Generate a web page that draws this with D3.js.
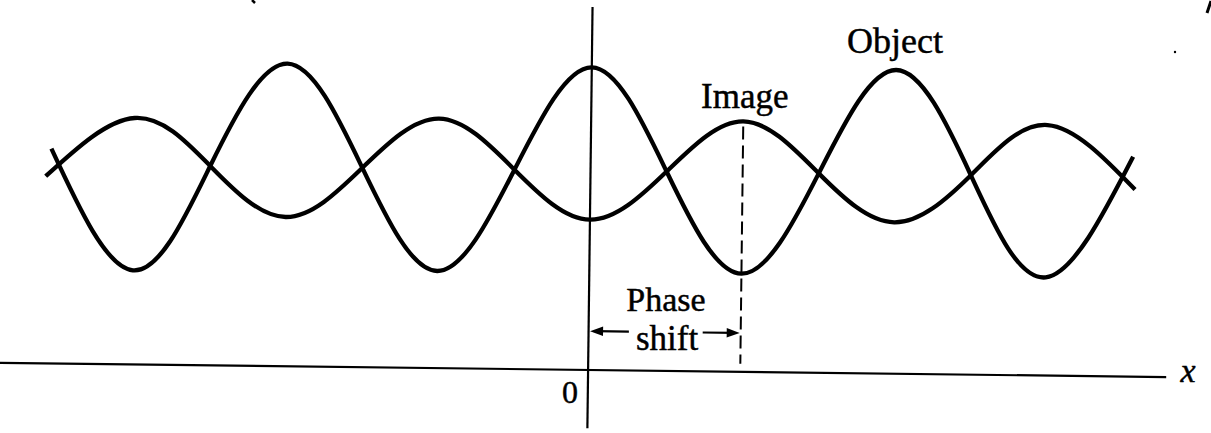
<!DOCTYPE html>
<html><head><meta charset="utf-8">
<script src="https://cdn.jsdelivr.net/npm/d3@7"></script>
<style>html,body{margin:0;padding:0;background:#fff;} svg{display:block}</style>
</head><body>
<svg id="chart" width="1211" height="433"></svg>
<script>
// x measured in quarter-periods from the origin; y in units of the object amplitude
const objectX = [-7.09, -6, -5, -4, -3, -2, -1, 0, 1, 2, 3, 4, 5, 6, 7.13];
const objectY = [0.15, -1.03, 0, 1.01, 0, -1.0, 0, 1.01, 0, -0.99, 0, 1.02, 0, -0.99, 0.2];
const imageX  = [-7.16, -6, -5, -4, -3, -2, -1, 0, 1, 2, 3, 4, 5, 6, 7.16];
const imageY  = [-0.12, 0.46, 0, -0.49, 0, 0.49, 0, -0.48, 0, 0.5, 0, -0.47, 0, 0.5, -0.12];
const seriesLabels = ["Object", "Image"];
const annotationLines = ["Phase", "shift"];
const originLabel = "0";
const axisLabel = "x";
const phaseShiftStart = 0;   // origin
const phaseShiftEnd = 2;     // image peak position

const svg = d3.select("#chart");
const W = 1211, H = 433;
svg.append("rect").attr("width", W).attr("height", H).attr("fill", "#fff");

const xScale = d3.scaleLinear().domain([-7, 7]).range([55.6, 1120.6]);
const yScale = d3.scaleLinear().domain([-1.95, 1.6]).range([370, 7]);

const g = svg.append("g").attr("transform", "rotate(0.7,590,370)");

// axes
g.append("line")
  .attr("x1", xScale(-7.8)).attr("x2", xScale(7.6))
  .attr("y1", yScale(-1.95)).attr("y2", yScale(-1.95))
  .attr("stroke", "#000").attr("stroke-width", 2.2);
g.append("line")
  .attr("x1", xScale(0)).attr("x2", xScale(0))
  .attr("y1", yScale(1.6)).attr("y2", yScale(-2.52))
  .attr("stroke", "#000").attr("stroke-width", 2.2);

const line = d3.line()
  .x(d => xScale(d[0])).y(d => yScale(d[1]))
  .curve(d3.curveNatural);

g.append("path")
  .datum(objectX.map((x, i) => [x, objectY[i]]))
  .attr("d", line).attr("fill", "none")
  .attr("stroke", "#000").attr("stroke-width", 4.3).attr("stroke-linejoin", "round");
g.append("path")
  .datum(imageX.map((x, i) => [x, imageY[i]]))
  .attr("d", line).attr("fill", "none")
  .attr("stroke", "#000").attr("stroke-width", 4.3).attr("stroke-linejoin", "round");

// dashed marker under the image peak
g.append("line")
  .attr("x1", xScale(phaseShiftEnd)).attr("x2", xScale(phaseShiftEnd))
  .attr("y1", yScale(0.45)).attr("y2", yScale(-1.87))
  .attr("stroke", "#000").attr("stroke-width", 2)
  .attr("stroke-dasharray", "13,6");

// phase shift arrows
const arrowLevel = yScale(-1.57);
function arrow(tailX, tipX) {
  const d = tipX > tailX ? 1 : -1;
  g.append("line").attr("x1", tailX).attr("x2", tipX - d * 6)
    .attr("y1", arrowLevel).attr("y2", arrowLevel)
    .attr("stroke", "#000").attr("stroke-width", 2.2);
  g.append("path")
    .attr("d", `M${tipX},${arrowLevel} L${tipX - d * 13},${arrowLevel - 4.8} L${tipX - d * 13},${arrowLevel + 4.8} Z`)
    .attr("fill", "#000");
}
arrow(xScale(0.53), xScale(phaseShiftStart) + 1.5);
arrow(xScale(1.5), xScale(phaseShiftEnd) - 1);

// labels (screen positions)
const font = "'Liberation Serif', 'Times New Roman', serif";
function label(x, y, str, size, anchor, italic) {
  return svg.append("text").attr("x", x).attr("y", y).text(str)
    .attr("font-family", font).attr("font-size", size)
    .attr("text-anchor", anchor || "start")
    .attr("font-style", italic ? "italic" : "normal")
    .attr("fill", "#000").attr("stroke", "#000").attr("stroke-width", 0.45);
}
label(847, 53, seriesLabels[0], 36);
label(701, 108, seriesLabels[1], 35);
label(666, 311, annotationLines[0], 34, "middle");
label(667, 350, annotationLines[1], 35, "middle");
label(570, 403, originLabel, 32, "middle");
label(1188, 382, axisLabel, 34, "middle", true);

// small scan marks at the edges
svg.append("path").attr("d", "M1207,13 L1211,1").attr("stroke", "#000").attr("stroke-width", 3);
svg.append("path").attr("d", "M252,0 L255,3").attr("stroke", "#000").attr("stroke-width", 2.5);
svg.append("circle").attr("cx", 1175).attr("cy", 52).attr("r", 1.2).attr("fill", "#000");
</script>
</body></html>
